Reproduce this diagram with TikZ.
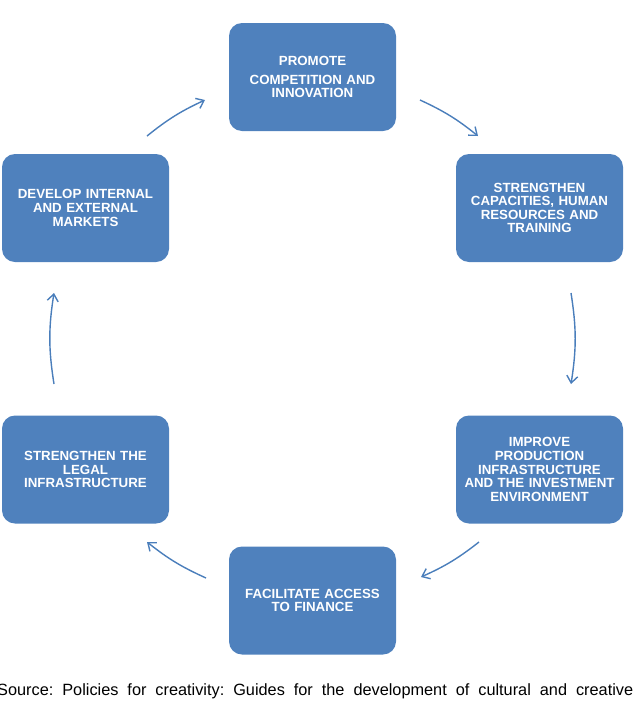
\documentclass[tikz,border=0pt]{standalone}
\usepackage{fontspec}
\setmainfont{Liberation Sans}
\usepackage{tikz}
\usetikzlibrary{arrows.meta}
\definecolor{boxblue}{HTML}{4F81BD}
\definecolor{flowblue}{HTML}{4A7EBB}
\tikzstyle{box}=[shape=rectangle,rounded corners=13pt,fill=boxblue,minimum width=167pt,minimum height=108pt,inner sep=0pt,text width=152pt,align=center,text=white,font=\bfseries\fontsize{13.3}{13.6}\selectfont]
\tikzstyle{flow}=[-{Straight Barb[length=7pt,width=11pt]},draw=flowblue,line width=1.4pt,bend left=9]
\tikzstyle{caption}=[inner sep=0pt,anchor=base west,font=\fontsize{16.3}{19}\selectfont]
\frenchspacing

\begin{document}
\begin{tikzpicture}[x=1pt,y=-1pt]
            \useasboundingbox (0,0) rectangle (633,702);
            \node[box] (promote) at (312.5, 77) {PROMOTE\\[5pt]COMPETITION AND\\INNOVATION}
            ;
            \node[box] (capacity) at (539.5, 208) {STRENGTHEN\\CAPACITIES, HUMAN\\RESOURCES AND\\TRAINING}
            ;
            \node[box] (infra) at (539.5, 469.5) {IMPROVE\\PRODUCTION\\INFRASTRUCTURE\\AND THE INVESTMENT\\ENVIRONMENT}
            ;
            \node[box] (finance) at (312.5, 600.5) {FACILITATE ACCESS\\TO FINANCE}
            ;
            \node[box] (legal) at (85.5, 469.5) {STRENGTHEN THE\\LEGAL\\INFRASTRUCTURE}
            ;
            \node[box] (markets) at (85.5, 208) {DEVELOP INTERNAL\\AND EXTERNAL\\MARKETS}
            ;
            % arrow ends on the ring
            \coordinate (p1) at (420, 100);   \coordinate (q1) at (478, 136);
            \coordinate (p2) at (571, 293);   \coordinate (q2) at (571, 384);
            \coordinate (p3) at (479, 542);   \coordinate (q3) at (421, 577);
            \coordinate (p4) at (206, 578);   \coordinate (q4) at (147, 542);
            \coordinate (p5) at (54, 384);    \coordinate (q5) at (54, 293);
            \coordinate (p6) at (147, 136);   \coordinate (q6) at (205, 100);
            \draw[flow,bend left=7] (p1) to (q1);
            \draw[flow] (p2) to (q2);
            \draw[flow,bend left=7] (p3) to (q3);
            \draw[flow,bend left=7] (p4) to (q4);
            \draw[flow] (p5) to (q5);
            \draw[flow,bend left=7] (p6) to (q6);
            \node[caption] (source) at (-3, 695) {\makebox[636pt][s]{Source: Policies for creativity: Guides for the development of cultural and creative}};
        \end{tikzpicture}
\end{document}
